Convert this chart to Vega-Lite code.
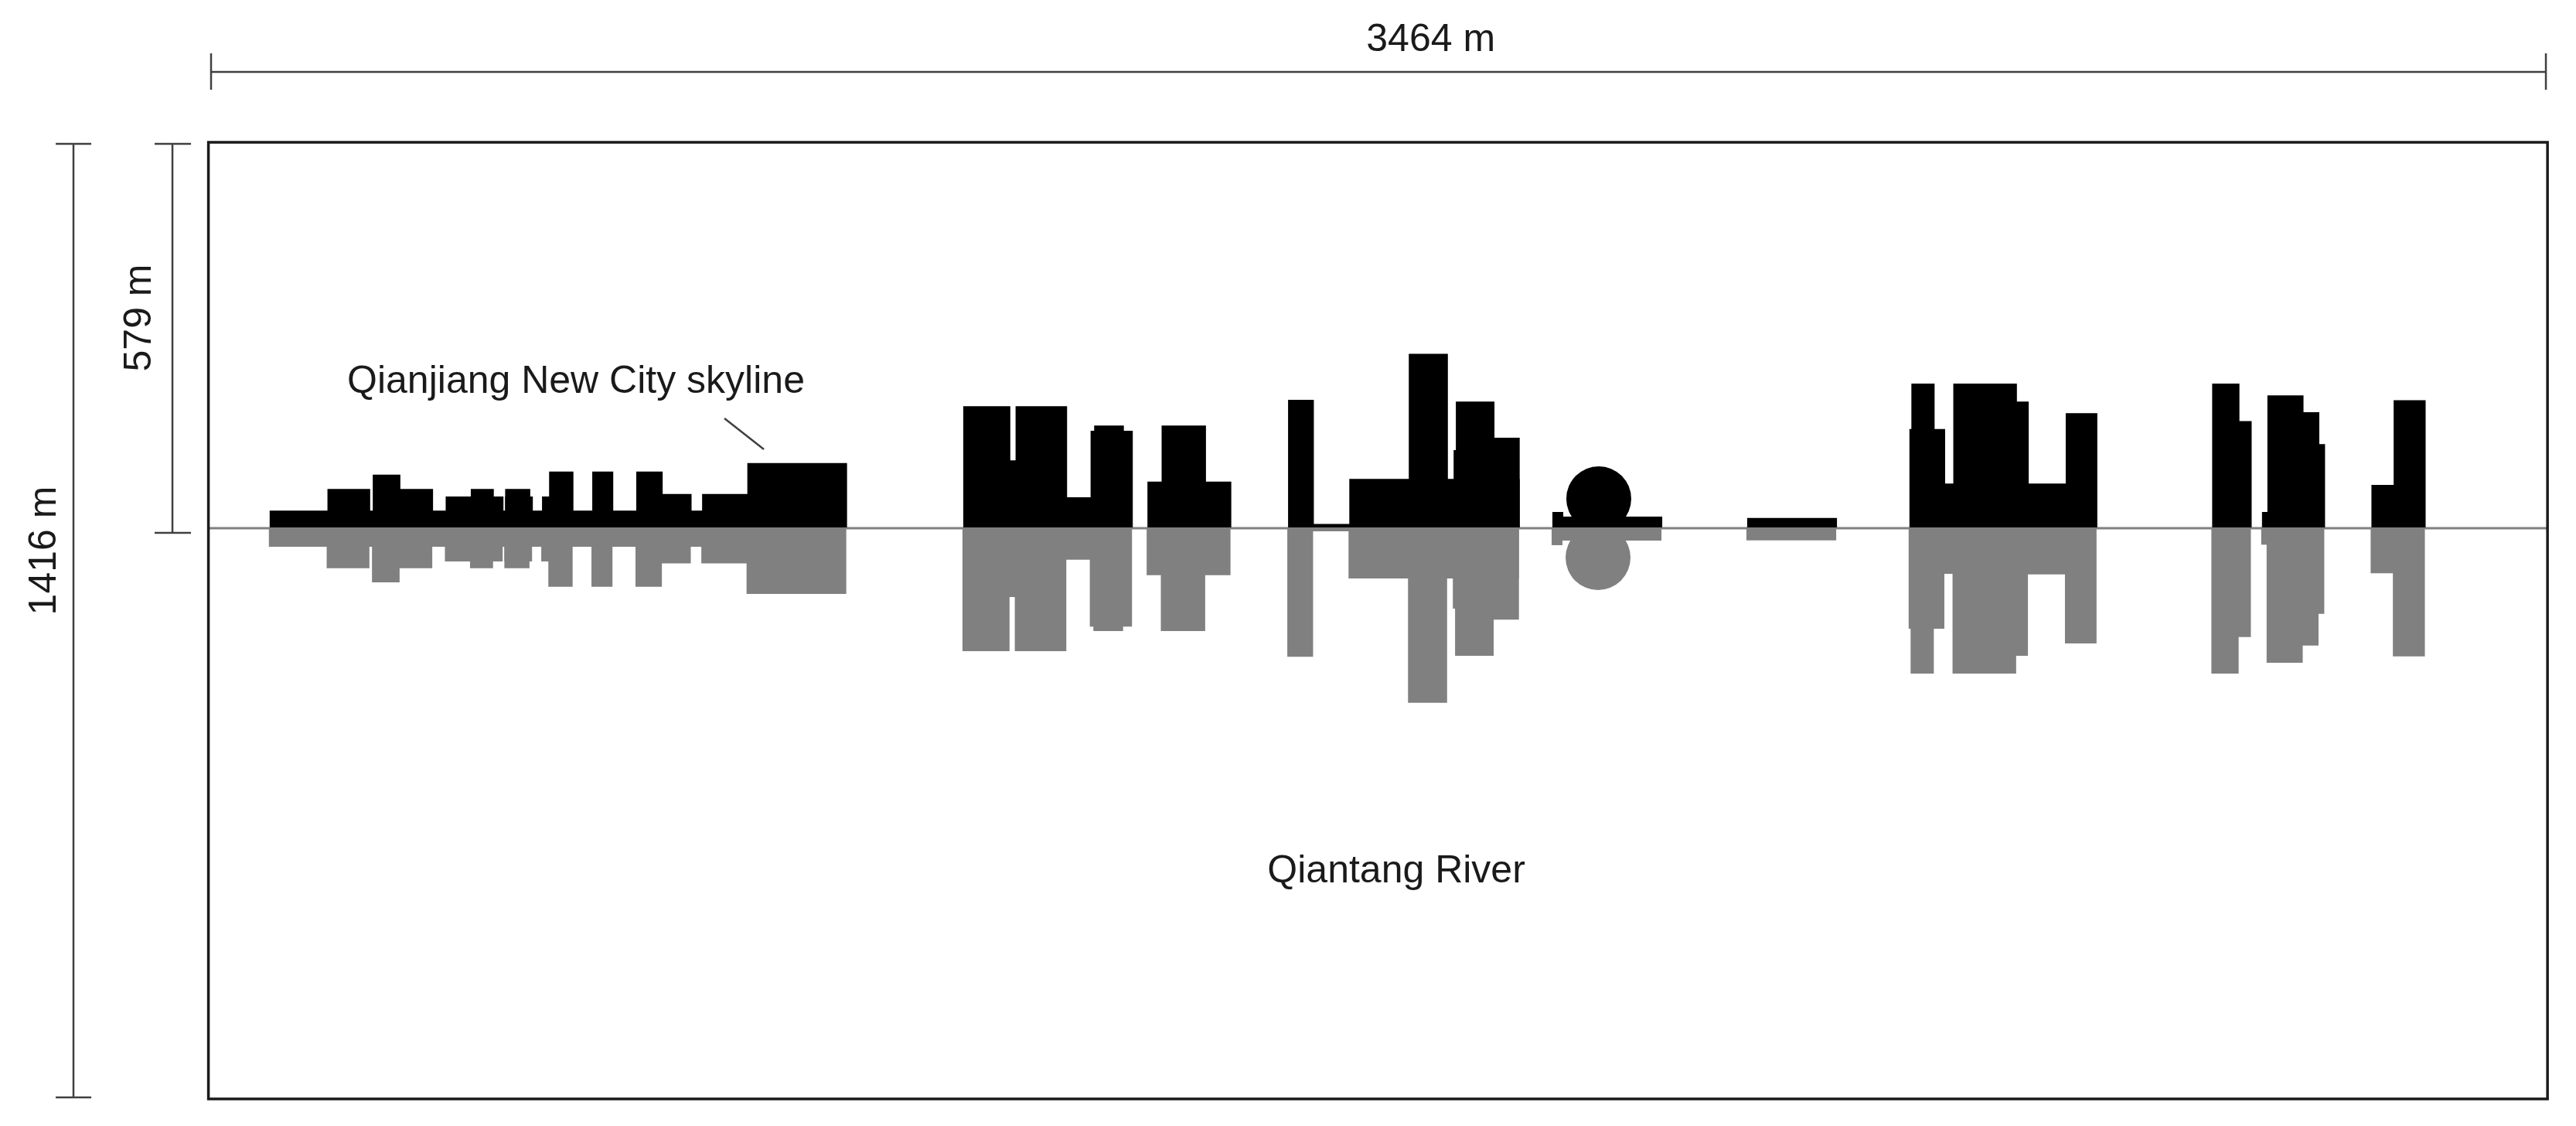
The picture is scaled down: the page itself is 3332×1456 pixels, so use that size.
{
  "$schema": "https://vega.github.io/schema/vega-lite/v6.json",
  "width": 3332,
  "height": 1456,
  "autosize": {"type": "fit", "contains": "padding"},
  "padding": 0,
  "background": "white",
  "view": {"stroke": null},
  "datasets": {
    "buildings": [
      {"x0": 90.2, "x1": 800, "top": 25, "depth": -28.6},
      {"x0": 175.8, "x1": 239.1, "top": 56.9, "depth": -60.3},
      {"x0": 242.9, "x1": 283.8, "top": 78.2, "depth": -81.3},
      {"x0": 278, "x1": 332.2, "top": 56.9, "depth": -60.3},
      {"x0": 350.9, "x1": 436.5, "top": 45.8, "depth": -50.4},
      {"x0": 388.1, "x1": 422.2, "top": 56.9, "depth": -60.3},
      {"x0": 439, "x1": 476.2, "top": 56.9, "depth": -60.3},
      {"x0": 439, "x1": 480, "top": 45.8, "depth": -50.4},
      {"x0": 493.6, "x1": 508, "top": 45.8, "depth": -50.4},
      {"x0": 504.1, "x1": 540.1, "top": 82.8, "depth": -87.8},
      {"x0": 568, "x1": 599.1, "top": 82.8, "depth": -87.8},
      {"x0": 633.2, "x1": 672.3, "top": 82.8, "depth": -87.8},
      {"x0": 669, "x1": 715.1, "top": 49.6, "depth": -53.4},
      {"x0": 730.7, "x1": 801, "top": 49.6, "depth": -53.4},
      {"x0": 797.7, "x1": 945.4, "top": 95.4, "depth": -98.5},
      {"x0": 1117.5, "x1": 1187.2, "top": 179.4, "depth": -183.2},
      {"x0": 1184, "x1": 1198, "top": 99.2, "depth": -103.1},
      {"x0": 1195, "x1": 1271.3, "top": 179.4, "depth": -183.2},
      {"x0": 1268, "x1": 1310, "top": 44.7, "depth": -47.7},
      {"x0": 1306.1, "x1": 1368.6, "top": 143.1, "depth": -147},
      {"x0": 1311.4, "x1": 1355.4, "top": 150.8, "depth": -153.4},
      {"x0": 1390.3, "x1": 1514.5, "top": 67.9, "depth": -70.6},
      {"x0": 1411.3, "x1": 1477, "top": 150.8, "depth": -153.4},
      {"x0": 1598.6, "x1": 1636.8, "top": 188.9, "depth": -191.6},
      {"x0": 1634, "x1": 1692, "top": 5, "depth": -5.7},
      {"x0": 1689.3, "x1": 1941.7, "top": 71.8, "depth": -75.6},
      {"x0": 1777.4, "x1": 1835.3, "top": 256.9, "depth": -259.6},
      {"x0": 1843.8, "x1": 1850, "top": 114.5, "depth": -120.2},
      {"x0": 1847.1, "x1": 1904.3, "top": 186.3, "depth": -190.1},
      {"x0": 1900, "x1": 1941.7, "top": 132.8, "depth": -136.6},
      {"x0": 1990.1, "x1": 2152.8, "top": 16, "depth": -19.5},
      {"x0": 1990.1, "x1": 2006.2, "top": 22.9, "depth": -26.3},
      {"x0": 2278.6, "x1": 2411.6, "top": 14.1, "depth": -19.1},
      {"x0": 2518.9, "x1": 2571.8, "top": 145.8, "depth": -150},
      {"x0": 2521.8, "x1": 2556.2, "top": 213, "depth": -216.4},
      {"x0": 2568, "x1": 2587, "top": 64.9, "depth": -68.7},
      {"x0": 2583.9, "x1": 2678.1, "top": 213, "depth": -216.4},
      {"x0": 2675, "x1": 2695.6, "top": 186.3, "depth": -190.1},
      {"x0": 2692, "x1": 2753, "top": 64.9, "depth": -69.5},
      {"x0": 2750.4, "x1": 2797.2, "top": 169.1, "depth": -171.8},
      {"x0": 2967.3, "x1": 3007.7, "top": 213, "depth": -216.4},
      {"x0": 3004, "x1": 3025.8, "top": 157.3, "depth": -162.2},
      {"x0": 3041.1, "x1": 3052, "top": 22.9, "depth": -25.6},
      {"x0": 3049.1, "x1": 3102.6, "top": 195.4, "depth": -200.4},
      {"x0": 3100, "x1": 3126, "top": 170.6, "depth": -174.8},
      {"x0": 3123, "x1": 3134.5, "top": 123.3, "depth": -127.9},
      {"x0": 3203.2, "x1": 3239, "top": 63, "depth": -67.9},
      {"x0": 3236.1, "x1": 3283.5, "top": 188.2, "depth": -190.9}
    ],
    "dimensions": [
      {"x": 3.4, "x2": 3461.6, "y": 674.5, "y2": 674.5},
      {"x": 3.4, "x2": 3.4, "y": 702, "y2": 648},
      {"x": 3461.6, "x2": 3461.6, "y": 702, "y2": 648},
      {"x": -53.8, "x2": -53.8, "y": 568, "y2": -8},
      {"x": -80.2, "x2": -26.3, "y": 568, "y2": 568},
      {"x": -80.2, "x2": -26.3, "y": -8, "y2": -8},
      {"x": -200.4, "x2": -200.4, "y": 568, "y2": -844},
      {"x": -226.7, "x2": -174, "y": 568, "y2": 568},
      {"x": -226.7, "x2": -174, "y": -844, "y2": -844},
      {"x": 763.8, "x2": 822.2, "y": 161.5, "y2": 115.7}
    ]
  },
  "encoding": {
    "x": {"field": "x0", "type": "quantitative", "axis": null, "scale": {"domain": [-309.2, 3506.2], "nice": false, "zero": false}},
    "y": {"field": "top", "type": "quantitative", "axis": null, "scale": {"domain": [-886.3, 780.9], "nice": false, "zero": false}}
  },
  "layer": [
    {
      "data": {"values": [{"x": 2057.7, "y": -44.7}]},
      "mark": {"type": "point", "shape": "circle", "filled": true, "size": 7056, "color": "#808080", "opacity": 1},
      "encoding": {
        "x": {"field": "x", "type": "quantitative"},
        "y": {"field": "y", "type": "quantitative"}
      }
    },
    {
      "data": {"values": [{"x": 2058.8, "y": 42.4}]},
      "mark": {"type": "point", "shape": "circle", "filled": true, "size": 7056, "color": "#000000", "opacity": 1},
      "encoding": {
        "x": {"field": "x", "type": "quantitative"},
        "y": {"field": "y", "type": "quantitative"}
      }
    },
    {
      "data": {"values": [{"x": -0.5, "x2": 3464, "y": -1.1}]},
      "mark": {"type": "rule", "color": "#808080", "strokeWidth": 3},
      "encoding": {
        "x": {"field": "x", "type": "quantitative"},
        "x2": {"field": "x2"},
        "y": {"field": "y", "type": "quantitative"}
      }
    },
    {
      "data": {"name": "buildings"},
      "mark": {"type": "rect", "color": "#808080", "xOffset": -1, "x2Offset": -1},
      "encoding": {
        "x": {"field": "x0", "type": "quantitative"},
        "x2": {"field": "x1"},
        "y": {"field": "depth", "type": "quantitative"},
        "y2": {"datum": 0}
      }
    },
    {
      "data": {"name": "buildings"},
      "mark": {"type": "rect", "color": "#000000"},
      "encoding": {
        "x": {"field": "x0", "type": "quantitative"},
        "x2": {"field": "x1"},
        "y": {"field": "top", "type": "quantitative"},
        "y2": {"datum": 0}
      }
    },
    {
      "data": {"values": [{"x": -0.5, "x2": 3464, "y": 570.3, "y2": -846.2}]},
      "mark": {"type": "rect", "filled": false, "stroke": "#1a1a1a", "strokeWidth": 3.5},
      "encoding": {
        "x": {"field": "x", "type": "quantitative"},
        "x2": {"field": "x2"},
        "y": {"field": "y", "type": "quantitative"},
        "y2": {"field": "y2"}
      }
    },
    {
      "data": {"name": "dimensions"},
      "mark": {"type": "rule", "color": "#404040", "strokeWidth": 2.5},
      "encoding": {
        "x": {"field": "x", "type": "quantitative"},
        "x2": {"field": "x2"},
        "y": {"field": "y", "type": "quantitative"},
        "y2": {"field": "y2"}
      }
    },
    {
      "data": {"values": [
        {"label": "3464 m", "x": 1810, "y": 722.5},
        {"label": "Qianjiang New City skyline", "x": 543.9, "y": 216.5},
        {"label": "Qiantang River", "x": 1758.9, "y": -508}
      ]},
      "mark": {"type": "text", "font": "Liberation Sans", "fontSize": 50, "color": "#1a1a1a", "align": "center", "baseline": "middle"},
      "encoding": {
        "x": {"field": "x", "type": "quantitative"},
        "y": {"field": "y", "type": "quantitative"},
        "text": {"field": "label"}
      }
    },
    {
      "data": {"values": [
        {"label": "579 m", "x": -103, "y": 310.3},
        {"label": "1416 m", "x": -244, "y": -34.4}
      ]},
      "mark": {"type": "text", "font": "Liberation Sans", "fontSize": 50, "color": "#1a1a1a", "align": "center", "baseline": "middle", "angle": 270},
      "encoding": {
        "x": {"field": "x", "type": "quantitative"},
        "y": {"field": "y", "type": "quantitative"},
        "text": {"field": "label"}
      }
    }
  ]
}
